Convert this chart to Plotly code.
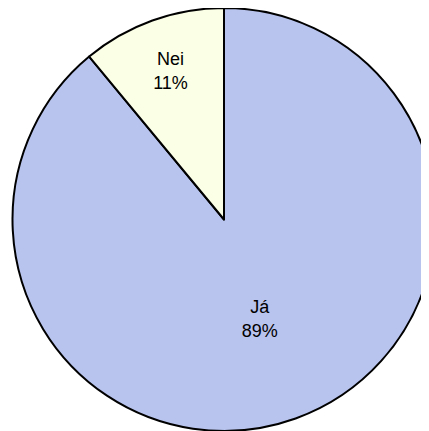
import plotly.graph_objects as go

# Svör
labels = ['Já', 'Nei']
values = [89, 11]
colors = ['#B8C3EE', '#FBFFE5']

fig = go.Figure()

fig.add_trace(go.Pie(
    labels=labels,
    values=values,
    sort=False,
    direction='clockwise',
    rotation=0,
    marker=dict(colors=colors, line=dict(color='black', width=2)),
    texttemplate='%{label}<br>%{percent:.0%}',
    textposition='inside',
    insidetextorientation='horizontal',
    textfont=dict(family='Liberation Sans, Arial, sans-serif', size=18, color='black'),
    showlegend=False,
    hoverinfo='label+percent',
))

fig.update_layout(
    width=429,
    height=431,
    margin=dict(l=3, r=0, t=0, b=8),
    uniformtext=dict(minsize=18, mode='show'),
    paper_bgcolor='white',
    plot_bgcolor='white',
)

fig.write_html("out.html")
